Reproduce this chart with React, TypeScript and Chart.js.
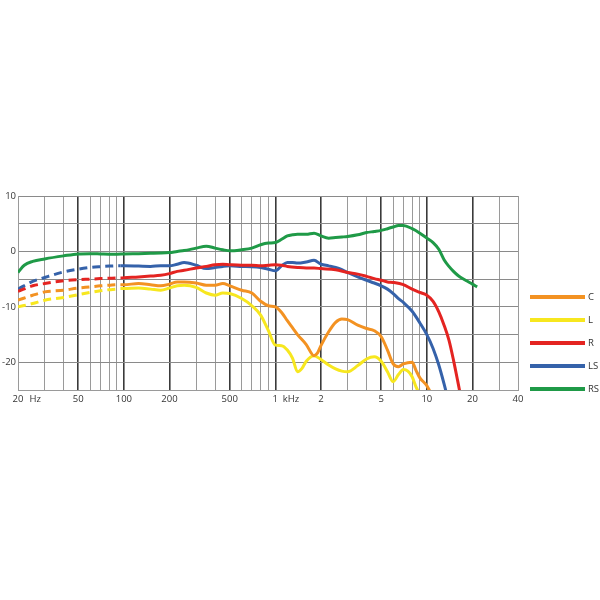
import React, { useEffect, useRef } from 'react';
import { Chart, registerables } from 'chart.js';

Chart.register(...registerables);

// ---- data ----
const seriesNames = ['C', 'L', 'R', 'LS', 'RS'];
const seriesColors = ['#f39222', '#f7e71f', '#e42421', '#3562aa', '#1f9a47'];

const lowFreqs = [20, 25, 30, 40, 50, 60, 70, 80, 90, 95];

const cMainFreqs = [100, 125, 150, 175, 200, 225, 250, 300, 350, 400, 450, 500, 600, 700, 800, 900, 1000, 1100, 1200, 1300, 1400, 1600, 1800, 1900, 2000, 2250, 2500, 2750, 3000, 3500, 4000, 4500, 5000, 5500, 6000, 6500, 7000, 8000, 8500, 9000, 10000, 10600];
const cLowValues = [-8.8, -7.9, -7.3, -7.0, -6.6, -6.4, -6.2, -6.1, -6.0, -6.0];
const cMainValues = [-6.0, -5.8, -6.0, -6.2, -5.9, -5.5, -5.5, -5.7, -6.1, -6.1, -5.8, -6.2, -7.0, -7.5, -9.0, -9.8, -10.0, -11.0, -12.5, -13.8, -15.0, -16.8, -18.8, -18.3, -17.0, -14.5, -12.8, -12.2, -12.3, -13.3, -13.9, -14.3, -15.4, -17.8, -20.3, -20.8, -20.3, -20.0, -21.5, -22.8, -24.2, -25.5];

const lMainFreqs = [100, 125, 150, 175, 200, 225, 250, 300, 350, 400, 450, 500, 600, 700, 800, 900, 1000, 1100, 1200, 1300, 1400, 1500, 1600, 1800, 2000, 2250, 2500, 2750, 3000, 3500, 4000, 4500, 5000, 5500, 6000, 6500, 7000, 7500, 8000, 8500, 9100];
const lLowValues = [-10.0, -9.4, -8.8, -8.3, -7.8, -7.4, -7.1, -6.9, -6.8, -6.7];
const lMainValues = [-6.7, -6.6, -6.8, -7.0, -6.6, -6.2, -6.1, -6.5, -7.5, -7.9, -7.5, -7.6, -8.5, -9.8, -11.5, -14.3, -16.9, -17.0, -17.8, -19.3, -21.7, -21.1, -19.8, -18.8, -19.5, -20.5, -21.2, -21.6, -21.7, -20.6, -19.4, -19.0, -19.8, -21.7, -23.5, -22.2, -21.3, -21.6, -22.6, -24.5, -26];

const rMainFreqs = [100, 125, 150, 175, 200, 225, 250, 300, 350, 400, 450, 500, 600, 700, 800, 900, 1000, 1100, 1200, 1400, 1600, 1800, 2000, 2500, 3000, 3500, 4000, 4500, 5000, 5500, 6000, 7000, 8000, 9000, 10000, 11000, 12000, 13000, 14000, 15000, 16000, 16700];
const rLowValues = [-7.2, -6.2, -5.8, -5.3, -5.1, -5.0, -4.9, -4.85, -4.8, -4.8];
const rMainValues = [-4.75, -4.6, -4.45, -4.3, -4.0, -3.6, -3.4, -3.0, -2.7, -2.4, -2.3, -2.4, -2.5, -2.5, -2.6, -2.5, -2.4, -2.5, -2.7, -2.9, -3.0, -3.0, -3.1, -3.3, -3.8, -4.1, -4.5, -4.9, -5.2, -5.5, -5.6, -6.0, -6.8, -7.4, -7.9, -9.0, -10.9, -13.3, -16.0, -19.6, -23.4, -26];

const lsMainFreqs = [100, 125, 150, 175, 200, 225, 250, 300, 350, 400, 450, 500, 600, 700, 800, 900, 1000, 1100, 1200, 1300, 1400, 1600, 1800, 2000, 2250, 2500, 2750, 3000, 3500, 4000, 4500, 5000, 5500, 6000, 6500, 7000, 8000, 9000, 10000, 11000, 12000, 13000, 13600];
const lsLowValues = [-6.8, -5.4, -4.7, -3.7, -3.2, -2.9, -2.75, -2.65, -2.6, -2.6];
const lsMainValues = [-2.6, -2.65, -2.7, -2.6, -2.6, -2.3, -2.0, -2.5, -3.1, -2.9, -2.7, -2.6, -2.7, -2.75, -2.9, -3.2, -3.5, -2.6, -2.0, -2.0, -2.1, -1.9, -1.6, -2.3, -2.6, -2.9, -3.3, -3.8, -4.6, -5.2, -5.7, -6.2, -6.8, -7.6, -8.5, -9.2, -10.8, -12.9, -15.0, -17.5, -20.5, -23.9, -26];

const rsFreqs = [20, 22, 25, 30, 40, 50, 60, 70, 80, 90, 100, 125, 150, 175, 200, 225, 250, 300, 350, 400, 450, 500, 600, 700, 800, 900, 1000, 1100, 1200, 1300, 1400, 1600, 1800, 2000, 2250, 2500, 2750, 3000, 3500, 4000, 4500, 5000, 5500, 6000, 6500, 7000, 8000, 9000, 10000, 11000, 12000, 13000, 14000, 15000, 16000, 17000, 18000, 20000, 21500];
const rsValues = [-3.8, -2.5, -1.8, -1.35, -0.8, -0.45, -0.4, -0.45, -0.5, -0.5, -0.45, -0.4, -0.35, -0.3, -0.2, 0.0, 0.15, 0.6, 0.95, 0.6, 0.3, 0.1, 0.3, 0.6, 1.2, 1.5, 1.6, 2.2, 2.8, 3.0, 3.1, 3.1, 3.3, 2.8, 2.4, 2.5, 2.6, 2.7, 3.0, 3.4, 3.6, 3.8, 4.1, 4.4, 4.7, 4.7, 4.1, 3.3, 2.4, 1.6, 0.4, -1.5, -2.7, -3.6, -4.3, -4.8, -5.2, -5.9, -6.4];

const xTickValues = [20, 26, 30, 40, 50, 60, 70, 80, 90, 100, 200, 300, 400, 500, 600, 700, 800, 900, 1000, 1270, 2000, 3000, 4000, 5000, 6000, 7000, 8000, 9000, 10000, 20000, 30000, 40000];
const xTickLabels: Record<number, string> = {
  20: '20', 26: 'Hz', 50: '50', 100: '100', 200: '200', 500: '500',
  1000: '1', 1270: 'kHz', 2000: '2', 5000: '5', 10000: '10', 20000: '20', 40000: '40',
};
const xBoldTicks = [50, 100, 200, 500, 1000, 2000, 5000, 10000, 20000];
const xLabelOnlyTicks = [26, 1270];
const yLabelTicks = [10, 0, -10, -20];

const DASH_END = 95;

function toPoints(freqs: number[], vals: number[]) {
  return freqs.map((f, i) => ({ x: f, y: vals[i] }));
}

const seriesPoints = [
  toPoints([...lowFreqs, ...cMainFreqs], [...cLowValues, ...cMainValues]),
  toPoints([...lowFreqs, ...lMainFreqs], [...lLowValues, ...lMainValues]),
  toPoints([...lowFreqs, ...rMainFreqs], [...rLowValues, ...rMainValues]),
  toPoints([...lowFreqs, ...lsMainFreqs], [...lsLowValues, ...lsMainValues]),
  toPoints(rsFreqs, rsValues),
];
const seriesDashed = [true, true, true, true, false];

const FONT = { family: "'Open Sans', 'Liberation Sans', sans-serif", size: 9.5 };
const legendY = [297, 320, 343, 366, 389];

export default function App() {
  const ref = useRef<HTMLCanvasElement>(null);

  useEffect(() => {
    if (!ref.current) return;
    const chart = new Chart(ref.current, {
      type: 'line',
      data: {
        datasets: seriesNames.map((name, i) => ({
          label: name,
          data: seriesPoints[i],
          borderColor: seriesColors[i],
          backgroundColor: seriesColors[i],
          borderWidth: 3,
          pointRadius: 0,
          pointHoverRadius: 0,
          fill: false,
          cubicInterpolationMode: 'monotone' as const,
          borderCapStyle: 'butt' as const,
          segment: seriesDashed[i]
            ? { borderDash: (ctx: any) => (ctx.p1.parsed.x <= DASH_END ? [8, 5] : undefined) }
            : undefined,
        })),
      },
      options: {
        animation: false,
        responsive: false,
        devicePixelRatio: 1,
        parsing: true,
        layout: { padding: { left: 0, top: 196, right: 82, bottom: 180 } },
        plugins: { legend: { display: false }, tooltip: { enabled: false } },
        scales: {
          x: {
            type: 'logarithmic',
            min: 20,
            max: 40000,
            afterBuildTicks: (scale: any) => {
              scale.ticks = xTickValues.map((v) => ({ value: v }));
            },
            afterFit: (scale: any) => {
              scale.height = 30;
            },
            ticks: {
              autoSkip: false,
              maxRotation: 0,
              minRotation: 0,
              padding: 4,
              color: '#333',
              font: FONT,
              callback: (value: any) => xTickLabels[Number(value)] ?? '',
            },
            grid: {
              drawTicks: false,
              color: (ctx: any) => {
                const v = ctx.tick?.value;
                if (xLabelOnlyTicks.includes(v)) return 'rgba(0,0,0,0)';
                return xBoldTicks.includes(v) ? '#3a3a3a' : '#9a9a9a';
              },
              lineWidth: (ctx: any) => (xBoldTicks.includes(ctx.tick?.value) ? 1.6 : 1),
            },
            border: { display: true, color: '#9a9a9a', width: 1 },
          },
          y: {
            type: 'linear',
            min: -25,
            max: 10,
            afterFit: (scale: any) => {
              scale.width = 18;
            },
            ticks: {
              stepSize: 5,
              padding: 2,
              color: '#333',
              font: FONT,
              callback: (value: any) => (yLabelTicks.includes(Number(value)) ? String(value) : ''),
            },
            grid: { drawTicks: false, color: '#8a8a8a', lineWidth: 1 },
            border: { display: true, color: '#9a9a9a', width: 1 },
          },
        },
      },
    } as any);
    return () => chart.destroy();
  }, []);

  return (
    <div style={{ position: 'absolute', left: 0, top: 0, width: 600, height: 600, background: '#fff' }}>
      <canvas ref={ref} width={600} height={600} style={{ display: 'block', width: 600, height: 600 }} />
      {seriesNames.map((name, i) => (
        <div key={name}>
          <div
            style={{
              position: 'absolute', left: 530, top: legendY[i] - 2, width: 55, height: 4,
              background: seriesColors[i],
            }}
          />
          <span
            style={{
              position: 'absolute', left: 588, top: legendY[i] - 7, fontFamily: FONT.family,
              fontSize: 9.5, lineHeight: '13px', color: '#333', whiteSpace: 'nowrap',
            }}
          >
            {name}
          </span>
        </div>
      ))}
    </div>
  );
}
